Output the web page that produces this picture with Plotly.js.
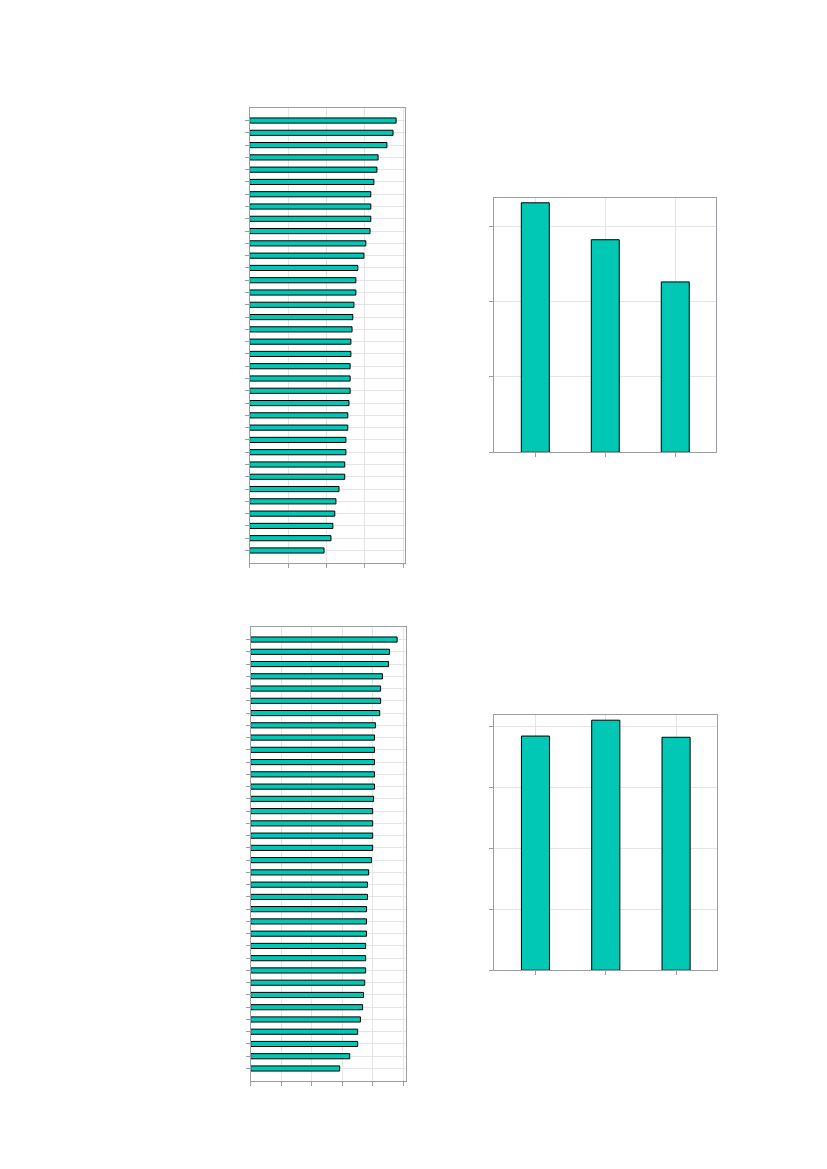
<!DOCTYPE html>
<html>
<head>
<meta charset="utf-8">
<script src="https://cdn.plot.ly/plotly-3.0.1.min.js"></script>
<style>
  html, body { margin: 0; padding: 0; background: #fff; }
  #plot { width: 827px; height: 1169px; }
</style>
</head>
<body>
<div id="plot"></div>
<script>
// top-left panel: 36 rows, sorted high to low
let topRows = [];
for (let i = 1; i <= 36; i++) topRows.push('T' + i);
let topValues = [3.82, 3.74, 3.58, 3.35, 3.32, 3.24, 3.16, 3.16, 3.16, 3.14,
                 3.03, 2.98, 2.82, 2.77, 2.77, 2.72, 2.69, 2.67, 2.64, 2.64,
                 2.62, 2.62, 2.62, 2.59, 2.56, 2.56, 2.51, 2.51, 2.48, 2.48,
                 2.33, 2.25, 2.22, 2.17, 2.12, 1.94];

// top-right panel: three groups
let topGroups = ['G1', 'G2', 'G3'];
let topGroupValues = [3.31, 2.82, 2.26];

// bottom-left panel: 36 rows
let bottomRows = [];
for (let i = 1; i <= 36; i++) bottomRows.push('B' + i);
let bottomValues = [4.79, 4.54, 4.51, 4.31, 4.25, 4.25, 4.22, 4.08, 4.05, 4.05,
                    4.05, 4.05, 4.05, 4.02, 3.99, 3.99, 3.99, 3.99, 3.95, 3.86,
                    3.82, 3.82, 3.79, 3.79, 3.79, 3.76, 3.76, 3.76, 3.73, 3.69,
                    3.66, 3.59, 3.50, 3.50, 3.24, 2.91];

// bottom-right panel
let bottomGroups = ['G1', 'G2', 'G3'];
let bottomGroupValues = [3.84, 4.10, 3.82];

const fill = '#00C8B4';
const edge = {color: '#000000', width: 1};

let traces = [
    {type: 'bar', orientation: 'h', x: topValues, y: topRows, width: 0.42,
     marker: {color: fill, line: edge}, xaxis: 'x', yaxis: 'y', hoverinfo: 'none'},
    {type: 'bar', x: topGroups, y: topGroupValues, width: 0.4,
     marker: {color: fill, line: edge}, xaxis: 'x2', yaxis: 'y2', hoverinfo: 'none'},
    {type: 'bar', orientation: 'h', x: bottomValues, y: bottomRows, width: 0.42,
     marker: {color: fill, line: edge}, xaxis: 'x3', yaxis: 'y3', hoverinfo: 'none'},
    {type: 'bar', x: bottomGroups, y: bottomGroupValues, width: 0.4,
     marker: {color: fill, line: edge}, xaxis: 'x4', yaxis: 'y4', hoverinfo: 'none'}
];

// shared look for every axis: grey frame, outside ticks, no labels
function axis(extra) {
    let base = {
        showline: true, linecolor: '#9a9ea2', linewidth: 1, mirror: true,
        ticks: 'outside', ticklen: 4, tickwidth: 1, tickcolor: '#9a9ea2',
        showticklabels: false, showgrid: true, gridcolor: '#e4e4e4', gridwidth: 1,
        zeroline: false, fixedrange: true, tickmode: 'linear', dtick: 1, tick0: 0
    };
    return Object.assign(base, extra);
}

let layout = {
    width: 827, height: 1169,
    margin: {l: 0, r: 0, t: 0, b: 0},
    paper_bgcolor: '#ffffff', plot_bgcolor: '#ffffff',
    showlegend: false,
    xaxis: axis({domain: [0.3019, 0.4901], anchor: 'y', range: [0, 4.06]}),
    yaxis: axis({domain: [0.5186, 0.9074], anchor: 'x', type: 'category', range: [36, -1]}),
    xaxis2: axis({domain: [0.5977, 0.8661], anchor: 'y2', type: 'category', range: [-0.586, 2.586]}),
    yaxis2: axis({domain: [0.6131, 0.8304], anchor: 'x2', range: [0, 3.37]}),
    xaxis3: axis({domain: [0.3031, 0.4913], anchor: 'y3', range: [0, 5.09]}),
    yaxis3: axis({domain: [0.0755, 0.4634], anchor: 'x3', type: 'category', range: [36, -1]}),
    xaxis4: axis({domain: [0.5977, 0.8673], anchor: 'y4', type: 'category', range: [-0.586, 2.586]}),
    yaxis4: axis({domain: [0.1700, 0.3881], anchor: 'x4', range: [0, 4.18]})
};

Plotly.newPlot('plot', traces, layout, {staticPlot: true, displayModeBar: false});
</script>
</body>
</html>
